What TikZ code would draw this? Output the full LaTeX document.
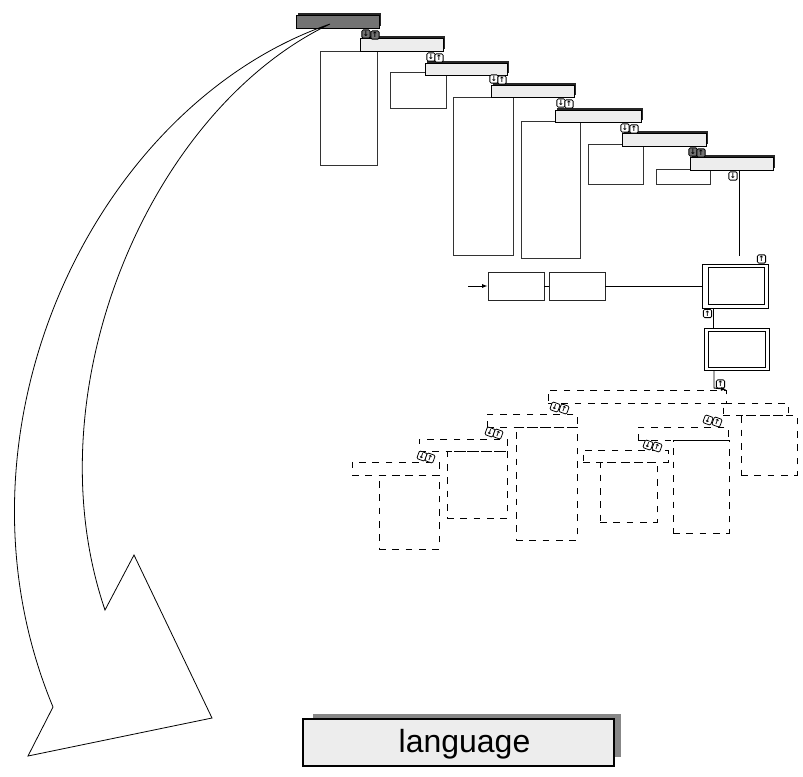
\documentclass[tikz,border=0pt]{standalone}
\usepackage{fontspec}
\newfontfamily\labelfont{Liberation Sans}
\newfontfamily\symfont{DejaVu Sans}
\usetikzlibrary{positioning, fit, shadows, arrows.meta}

\begin{document}
\begin{tikzpicture}[
    x=0.75pt, y=-0.75pt,
    >={Latex[length=4pt, width=3pt]},
    line width=0.7pt,
    panel/.style={draw=black!80, inner sep=0pt, fit={#1}},
    bar/.style={
        draw=black, fill=black!7, inner sep=0pt, fit={#1},
        general shadow={fill=black!85, shadow xshift=1.2pt, shadow yshift=1.2pt}
    },
    darkbar/.style={bar={#1}, fill=black!55},
    icon/.style={
        draw=black, fill=white, rounded corners=1pt, minimum size=6.2pt,
        inner sep=0pt, line width=0.6pt, font=\symfont\bfseries\fontsize{5.5}{5.5}\selectfont
    },
    darkicon/.style={icon, fill=black!55},
    dicon/.style={icon, rotate=-20},
    window/.style={draw=black, fill=white, inner sep=0pt, fit={#1}},
    box/.style={draw=black!85, inner sep=0pt, fit={#1}},
    dashedbox/.style={draw=black, dash pattern=on 5pt off 5pt, inner sep=0pt, fit={#1}}
]

\useasboundingbox (0,0) rectangle (803,776);

% panels behind the bars
\node[panel={(320,51) (377,165)}] (p1) {};
\node[panel={(390,72) (446,108)}] (p2) {};
\node[panel={(453,97) (513,255)}] (p3) {};
\node[panel={(521,121) (580,258)}] (p4) {};
\node[panel={(588,144) (643,184)}] (p5) {};
\node[panel={(656,169) (710,184)}] (p6) {};

% stacked bars
\node[darkbar={(296,15) (379,28)}] (hdr) {};
\node[bar={(360,38) (443,51)}] (b1) {};
\node[bar={(425,63) (507,75)}] (b2) {};
\node[bar={(491,85) (574,97)}] (b3) {};
\node[bar={(555,110) (641,122)}] (b4) {};
\node[bar={(622,133) (706,146)}] (b5) {};
\node[bar={(690,157) (773,170)}] (b6) {};

% buttons
\node[darkicon] (i0a) at (366,34) {↓};
\node[darkicon] (i0b) at (375,35) {↑};
\node[icon] (i1a) at (431,57) {↓};
\node[icon] (i1b) at (439,58) {↑};
\node[icon] (i2a) at (494,79) {↓};
\node[icon] (i2b) at (502,80) {↑};
\node[icon] (i3a) at (561,103) {↓};
\node[icon] (i3b) at (569,104) {↑};
\node[icon] (i4a) at (625,128) {↓};
\node[icon] (i4b) at (634,129) {↑};
\node[darkicon] (i5a) at (693,152) {↓};
\node[darkicon] (i5b) at (701,153) {↑};
\node[icon] (i6) at (733,176) {↓};

% input row and windows
\node[box={(488,272) (544,300)}] (ba) {};
\node[box={(549,272) (605,300)}] (bb) {};
\node[window={(702,264) (768,308)}] (w1) {};
\node[window={(708,267) (764,304)}] (w1in) {};
\node[window={(704,328) (769,370)}] (w2) {};
\node[window={(708,331) (765,367)}] (w2in) {};
\node[icon] (iw1) at (761.5,259) {↑};
\node[icon] (iw2) at (707.5,313.5) {↑};
\node[icon] (iw3) at (720.5,384) {↑};

\coordinate (in) at (468,286);
\coordinate (t6) at (739,256);
\coordinate (c12) at (713,0);
\coordinate (c2) at (714,388);

\draw[->] (in) -- (ba);
\draw (ba) -- (bb);
\draw (bb) -- (w1);
\draw (b6.south -| t6) -- (t6);
\draw (w1.south -| c12) -- (w2.north -| c12);

% dashed copy
\node[dashedbox={(379,475) (439,549)}] (dpa) {};
\node[dashedbox={(447,451) (507,518)}] (dpb) {};
\node[dashedbox={(516,427) (577,540)}] (dpc) {};
\node[dashedbox={(741,415) (797,475)}] (dpe) {};
\node[dashedbox={(673,440) (729,533)}] (dpf) {};
\node[dashedbox={(600,462) (657,522)}] (dpg) {};
\node[dashedbox={(352,462) (439,475)}] (da) {};
\node[dashedbox={(419,439) (507,451)}] (db) {};
\node[dashedbox={(487,414) (577,427)}] (dc) {};
\node[dashedbox={(548,390) (726,403)}] (dd) {};
\node[dashedbox={(723,403) (788,415)}] (de) {};
\node[dashedbox={(638,427) (728,440)}] (df) {};
\node[dashedbox={(583,450) (668,462)}] (dg) {};

\node[dicon] (j1a) at (422,456) {↓};
\node[dicon] (j1b) at (430,458) {↑};
\node[dicon] (j2a) at (490,432) {↓};
\node[dicon] (j2b) at (498,434) {↑};
\node[dicon] (j3a) at (555,407) {↓};
\node[dicon] (j3b) at (564,409) {↑};
\node[dicon] (j4a) at (708,420) {↓};
\node[dicon] (j4b) at (717,422) {↑};
\node[dicon] (j5a) at (648,445) {↓};
\node[dicon] (j5b) at (657,447) {↑};

\draw[->] (w2.south -| c2) -- (c2) -- (dd.north east);

% big curved arrow
\coordinate (src) at (330,24);
\draw[line width=0.6pt] (src) .. controls (95,105) and (-62,430) .. (53,707)
    -- (28,756) -- (212,718) -- (134,555) -- (105,610)
    .. controls (30,390) and (150,110) .. (src) -- cycle;

% target
\node[fill=black!47, inner sep=0pt, fit={(313,714) (621,757)}] (shade) {};
\node[draw=black, line width=1pt, fill=black!7, inner sep=0pt,
    fit={(303,719) (614,766)}] (lang) {};
\node[font=\labelfont\fontsize{24}{24}\selectfont, inner sep=0pt]
    (langtext) at ([xshift=4.5pt, yshift=-1pt]lang.center) {language};

\end{tikzpicture}
\end{document}
